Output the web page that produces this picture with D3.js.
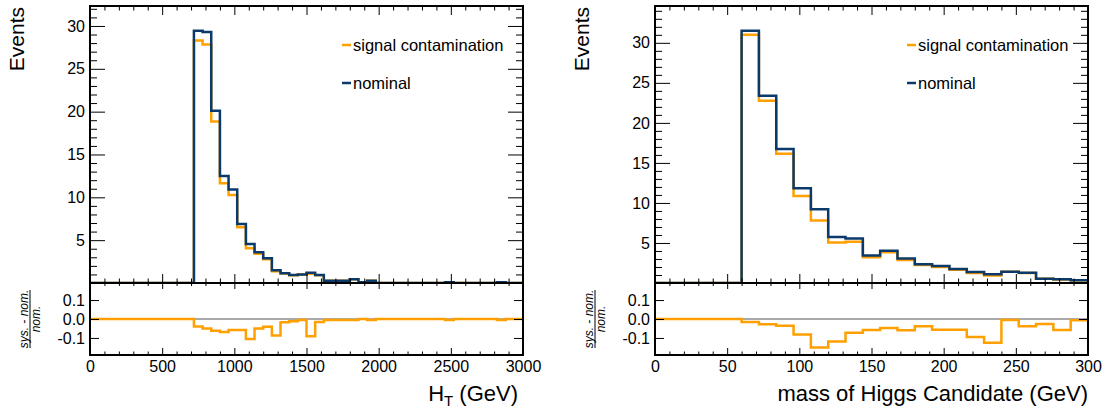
<!DOCTYPE html>
<html><head><meta charset="utf-8">
<script src="https://cdn.jsdelivr.net/npm/d3@7"></script>
<style>
html,body{margin:0;padding:0;background:#fff;}
text{font-family:"Liberation Sans",Arial,sans-serif;fill:#000;}
</style></head>
<body><svg id="c" width="1108" height="412"></svg>
<script>
// ---------------- data ----------------
// H_T histogram: 50 bins of 60 GeV from 0 to 3000
const htRange = [0, 3000];
const htBinWidth = 60;
const htNominal = [0,0,0,0,0,0,0,0,0,0,0,0,
  29.45,29.3,20.1,12.5,10.9,6.9,4.55,3.6,2.9,1.5,1.13,0.93,1.0,1.2,0.93,
  0.27,0.27,0.27,0.43,0.1,0.27,
  0,0,0,0,0,0,0,0,0.1,0,0,0,0,0,0.1,0,0];
const htSignal = [0,0,0,0,0,0,0,0,0,0,0,0,
  28.3,27.85,18.85,11.65,10.27,6.5,4.07,3.42,2.78,1.37,1.11,0.919,0.995,1.09,0.915,
  0.2687,0.2687,0.2687,0.428,0.1,0.2687,
  0,0,0,0,0,0,0,0,0.0995,0,0,0,0,0,0.0995,0,0];
const htTicks = [0,500,1000,1500,2000,2500,3000];

// Higgs candidate mass: 25 bins of 12 GeV from 0 to 300
const mRange = [0, 300];
const mBinWidth = 12;
const mNominal = [0,0,0,0,0,
  31.5,23.4,16.75,11.83,9.2,5.75,5.55,3.42,4.04,3.06,2.33,2.12,1.75,1.37,1.08,1.42,1.29,0.54,0.46,0.33];
const mSignal = [0,0,0,0,0,
  31.0,22.75,16.16,10.87,7.82,5.07,5.15,3.22,3.85,2.88,2.24,2.0,1.65,1.24,0.944,1.413,1.24,0.526,0.433,0.328];
const mTicks = [0,50,100,150,200,250,300];

const yTicks = [5,10,15,20,25,30];
const ratioTicks = [0.1, 0.0, -0.1];
const ratioTickLabels = ["0.1","0.0","-0.1"];
const legendLabels = ["signal contamination","nominal"];
const colSignal = "#ffa000";
const colNominal = "#0b3a6a";

// ---------------- drawing ----------------
const svg = d3.select("#c");

function drawPanel(o){
  const g = svg.append("g");
  const x = d3.scaleLinear().domain(o.range).range([o.x0, o.x1]);
  const y = d3.scaleLinear().domain([0, o.yMax]).range([o.yMid, o.yTop]);
  const yr = d3.scaleLinear().domain([-0.19, 0.19]).range([o.yBot, o.yMid]);
  const n = o.nominal.length;
  const edges = d3.range(n + 1).map(i => o.range[0] + i * o.bw);

  const cid = "clip" + o.id;
  const defs = svg.append("defs");
  defs.append("clipPath").attr("id", cid + "a").append("rect")
    .attr("x", o.x0).attr("y", o.yTop).attr("width", o.x1 - o.x0).attr("height", o.yMid - o.yTop);
  defs.append("clipPath").attr("id", cid + "b").append("rect")
    .attr("x", o.x0).attr("y", o.yMid).attr("width", o.x1 - o.x0).attr("height", o.yBot - o.yMid);

  const stepPts = vals => {
    const p = vals.map((v, i) => [edges[i], v]);
    p.push([edges[n], vals[n - 1]]);
    return p;
  };
  const line = d3.line().x(d => x(d[0])).y(d => y(d[1])).curve(d3.curveStepAfter);
  const top = g.append("g").attr("clip-path", `url(#${cid}a)`);
  top.append("path").attr("d", line(stepPts(o.signal))).attr("fill", "none")
    .attr("stroke", colSignal).attr("stroke-width", 2.5);
  top.append("path").attr("d", line(stepPts(o.nominal))).attr("fill", "none")
    .attr("stroke", colNominal).attr("stroke-width", 2.5);

  // ratio
  const ratio = o.nominal.map((v, i) => v > 0 ? (o.signal[i] - v) / v : 0);
  const rline = d3.line().x(d => x(d[0])).y(d => yr(d[1])).curve(d3.curveStepAfter);
  const bot = g.append("g").attr("clip-path", `url(#${cid}b)`);
  bot.append("line").attr("x1", o.x0).attr("x2", o.x1).attr("y1", yr(0)).attr("y2", yr(0))
    .attr("stroke", "#555").attr("stroke-width", 1);
  bot.append("path").attr("d", rline(stepPts(ratio))).attr("fill", "none")
    .attr("stroke", colSignal).attr("stroke-width", 2.5);

  // ---- axes ----
  const fs = "16px";
  const styleAxis = a => { a.select(".domain").remove(); a.selectAll("line").attr("stroke", "#000").attr("stroke-width", 1); a.selectAll("text").style("font-size", fs).attr("fill", "#000"); };
  const xMinor = d3.range(o.range[0], o.range[1] + 1e-9, o.minor).filter(v => !o.ticks.includes(v));

  [[d3.axisTop, o.yTop], [d3.axisBottom, o.yMid]].forEach(([ax, yy]) => {
    g.append("g").attr("transform", `translate(0,${yy})`).call(ax(x).tickValues(o.ticks).tickSize(-9).tickFormat("")).call(styleAxis);
    g.append("g").attr("transform", `translate(0,${yy})`).call(ax(x).tickValues(xMinor).tickSize(-4.5).tickFormat("")).call(styleAxis);
  });
  g.append("g").attr("transform", `translate(0,${o.yMid})`).call(d3.axisTop(x).tickValues(o.ticks).tickSize(-6).tickFormat("")).call(styleAxis);
  g.append("g").attr("transform", `translate(0,${o.yMid})`).call(d3.axisTop(x).tickValues(xMinor).tickSize(-3).tickFormat("")).call(styleAxis);
  g.append("g").attr("transform", `translate(0,${o.yBot})`).call(d3.axisBottom(x).tickValues(o.ticks).tickSize(-7).tickPadding(6).tickFormat(d3.format("d"))).call(styleAxis);
  g.append("g").attr("transform", `translate(0,${o.yBot})`).call(d3.axisBottom(x).tickValues(xMinor).tickSize(-3.5).tickFormat("")).call(styleAxis);

  const yMinor = d3.range(1, Math.floor(o.yMax) + 1).filter(v => !yTicks.includes(v));
  g.append("g").attr("transform", `translate(${o.x0},0)`).call(d3.axisLeft(y).tickValues(yTicks).tickSize(-15).tickPadding(5)).call(styleAxis);
  g.append("g").attr("transform", `translate(${o.x0},0)`).call(d3.axisLeft(y).tickValues(yMinor).tickSize(-7).tickFormat("")).call(styleAxis);
  g.append("g").attr("transform", `translate(${o.x1},0)`).call(d3.axisRight(y).tickValues(yTicks).tickSize(-15).tickFormat("")).call(styleAxis);
  g.append("g").attr("transform", `translate(${o.x1},0)`).call(d3.axisRight(y).tickValues(yMinor).tickSize(-7).tickFormat("")).call(styleAxis);
  g.append("g").attr("transform", `translate(${o.x0},0)`).call(d3.axisLeft(yr).tickValues(ratioTicks).tickSize(-9).tickPadding(5).tickFormat((d, i) => ratioTickLabels[i])).call(styleAxis);
  g.append("g").attr("transform", `translate(${o.x1},0)`).call(d3.axisRight(yr).tickValues(ratioTicks).tickSize(-9).tickFormat("")).call(styleAxis);

  g.append("rect").attr("x", o.x0).attr("y", o.yTop).attr("width", o.x1 - o.x0).attr("height", o.yMid - o.yTop)
    .attr("fill", "none").attr("stroke", "#000").attr("stroke-width", 2);
  g.append("rect").attr("x", o.x0).attr("y", o.yMid).attr("width", o.x1 - o.x0).attr("height", o.yBot - o.yMid)
    .attr("fill", "none").attr("stroke", "#000").attr("stroke-width", 2);

  g.append("text").attr("transform", `translate(${o.x0 - 66},7) rotate(-90)`).attr("text-anchor", "end")
    .style("font-size", "21px").text("Events");
  const fc = yr(0);
  g.append("text").attr("transform", `translate(${o.x0 - 62},${fc}) rotate(-90)`).attr("text-anchor", "middle")
    .style("font-size", "12px").style("font-style", "italic").text("sys. - nom.");
  g.append("line").attr("x1", o.x0 - 60).attr("x2", o.x0 - 60).attr("y1", fc - 29).attr("y2", fc + 29)
    .attr("stroke", "#000").attr("stroke-width", 1);
  g.append("text").attr("transform", `translate(${o.x0 - 50},${fc}) rotate(-90)`).attr("text-anchor", "middle")
    .style("font-size", "12px").style("font-style", "italic").text("nom.");

  o.xTitle(g);

  const cols = [colSignal, colNominal];
  legendLabels.forEach((t, i) => {
    const yy = 45 + i * 38;
    g.append("line").attr("x1", o.legX).attr("x2", o.legX + 9).attr("y1", yy).attr("y2", yy)
      .attr("stroke", cols[i]).attr("stroke-width", 2.5);
    g.append("text").attr("x", o.legX + 11).attr("y", yy).attr("dy", "0.35em")
      .style("font-size", "16.5px").text(t);
  });
}

drawPanel({
  id: "L", x0: 90, x1: 523, yTop: 6, yMid: 283, yBot: 355,
  range: htRange, bw: htBinWidth, nominal: htNominal, signal: htSignal,
  ticks: htTicks, minor: 100, yMax: 32.33, legX: 342,
  xTitle: g => {
    const t = g.append("text").attr("x", 518).attr("y", 401).attr("text-anchor", "end").style("font-size", "22px");
    t.append("tspan").text("H");
    t.append("tspan").attr("dy", 5).style("font-size", "15px").text("T");
    t.append("tspan").attr("dy", -5).text(" (GeV)");
  }
});
drawPanel({
  id: "R", x0: 655, x1: 1088, yTop: 6, yMid: 283, yBot: 355,
  range: mRange, bw: mBinWidth, nominal: mNominal, signal: mSignal,
  ticks: mTicks, minor: 10, yMax: 34.6, legX: 907,
  xTitle: g => {
    g.append("text").attr("x", 1088).attr("y", 401).attr("text-anchor", "end").style("font-size", "22px")
      .text("mass of Higgs Candidate (GeV)");
  }
});
</script></body></html>
